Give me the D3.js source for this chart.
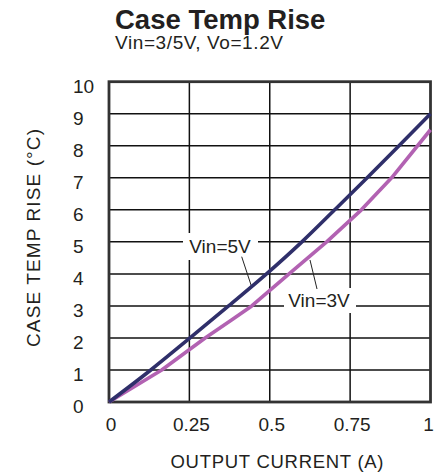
<!DOCTYPE html>
<html><head><meta charset="utf-8">
<script src="https://cdn.jsdelivr.net/npm/d3@7"></script>
<style>
html,body{margin:0;padding:0;background:#fff;}
svg{display:block;font-family:"Liberation Sans",Arial,Helvetica,sans-serif;}
</style></head>
<body>
<svg id="chart" width="435" height="476"></svg>
<script>
// ---- data ----
const title = "Case Temp Rise";
const subtitle = "Vin=3/5V, Vo=1.2V";
const xTicks = [0, 0.25, 0.5, 0.75, 1];
const xTickLabels = ["0", "0.25", "0.5", "0.75", "1"];
const yTicks = [0,1,2,3,4,5,6,7,8,9,10];
const yTickLabels = ["0","1","2","3","4","5","6","7","8","9","10"];
const xTitle = "OUTPUT CURRENT (A)";
const yTitle = "CASE TEMP RISE (°C)";
const vin5Current = [0, 0.13, 0.252, 0.372, 0.49, 0.6, 0.702, 0.803, 0.902, 1];
const vin5Rise    = [0, 1, 2, 3, 4, 5, 6, 7, 8, 9];
const vin3Current = [0, 0.164, 0.299, 0.38, 0.444, 0.56, 0.677, 0.785, 0.879, 1];
const vin3Rise    = [0, 1, 2, 2.55, 3, 4, 5, 6, 7, 8.5];
const seriesNames = ["Vin=5V", "Vin=3V"];

// ---- layout ----
const svg = d3.select("#chart");
const x = d3.scaleLinear().domain([0, 1]).range([109, 430.5]);
const y = d3.scaleLinear().domain([0, 10]).range([402, 81.7]);
const ink = "#231f20";

// title + subtitle (one text block, two lines)
const head = svg.append("text").attr("fill", ink);
head.append("tspan").attr("x", 115).attr("y", 29).attr("font-size", 27.5)
  .attr("font-weight", "bold").text(title);
head.append("tspan").attr("x", 115).attr("y", 48.5).attr("font-size", 19)
  .attr("textLength", 168).attr("lengthAdjust", "spacing").text(subtitle);

// gridlines
const grid = svg.append("g").attr("stroke", "#111").attr("stroke-width", 1.5);
grid.selectAll("line.h").data(yTicks.slice(1, -1)).join("line")
  .attr("x1", x(0)).attr("x2", x(1)).attr("y1", d => y(d)).attr("y2", d => y(d));
grid.selectAll("line.v").data(xTicks.slice(1, -1)).join("line")
  .attr("y1", y(0)).attr("y2", y(10)).attr("x1", d => x(d)).attr("x2", d => x(d));

// label backgrounds & leaders
const labels = [
  {name: seriesNames[0], tx: 220, ty: 253, box: [183, 233, 75, 27], lead: [[241.7, 256.7], [251.7, 287]]},
  {name: seriesNames[1], tx: 319, ty: 307, box: [284, 288, 72, 25], lead: [[310, 260], [317, 289]]}
];
labels.forEach(l => {
  svg.append("rect").attr("x", l.box[0]).attr("y", l.box[1]).attr("width", l.box[2])
    .attr("height", l.box[3]).attr("fill", "#fff");
});

// frame
svg.append("rect").attr("x", x(0)).attr("y", y(10)).attr("width", x(1) - x(0))
  .attr("height", y(0) - y(10)).attr("fill", "none").attr("stroke", "#333").attr("stroke-width", 2.8);

// leaders
labels.forEach(l => {
  svg.append("line").attr("x1", l.lead[0][0]).attr("y1", l.lead[0][1])
    .attr("x2", l.lead[1][0]).attr("y2", l.lead[1][1]).attr("stroke", "#222").attr("stroke-width", 1);
});

// series
const line = d3.line().x(d => x(d[0])).y(d => y(d[1]));
svg.append("path").datum(d3.zip(vin3Current, vin3Rise)).attr("d", line.curve(d3.curveLinear))
  .attr("fill", "none").attr("stroke", "#b262b2").attr("stroke-width", 3.6).attr("stroke-linejoin", "round");
svg.append("path").datum(d3.zip(vin5Current, vin5Rise)).attr("d", line.curve(d3.curveMonotoneX))
  .attr("fill", "none").attr("stroke", "#2f2f6a").attr("stroke-width", 3.6).attr("stroke-linejoin", "round");

// labels text
labels.forEach(l => {
  svg.append("text").attr("x", l.tx).attr("y", l.ty).attr("text-anchor", "middle")
    .attr("font-size", 19).attr("fill", ink).text(l.name);
});

// tick labels
svg.append("g").selectAll("text").data(yTicks).join("text")
  .attr("x", 73).attr("y", d => y(d) + 11).attr("text-anchor", "start")
  .attr("font-size", 19).attr("fill", ink).text((d, i) => yTickLabels[i]);
svg.append("g").selectAll("text").data(xTicks).join("text")
  .attr("x", (d, i) => x(d) + (i === xTicks.length - 1 ? -2 : 2)).attr("y", 431).attr("text-anchor", "middle")
  .attr("font-size", 19).attr("fill", ink).text((d, i) => xTickLabels[i]);

// axis titles
svg.append("text").attr("x", 277).attr("y", 468).attr("text-anchor", "middle")
  .attr("font-size", 18.5).attr("textLength", 213).attr("lengthAdjust", "spacing")
  .attr("fill", ink).text(xTitle);
svg.append("text").attr("transform", "translate(39.5,238) rotate(-90)").attr("text-anchor", "middle")
  .attr("font-size", 19).attr("textLength", 218).attr("lengthAdjust", "spacing")
  .attr("fill", ink).text(yTitle);
</script>
</body></html>
